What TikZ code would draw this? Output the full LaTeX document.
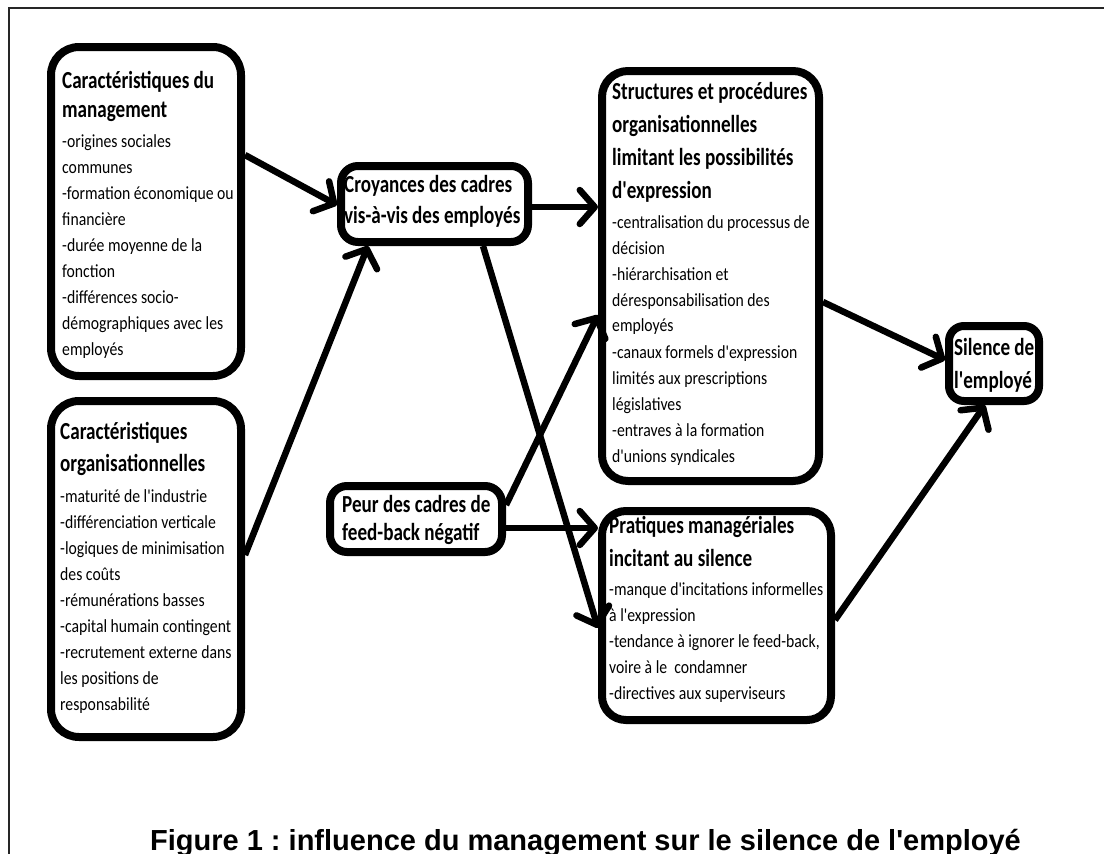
\documentclass[tikz,border=0pt]{standalone}
\usepackage{fontspec}
\usetikzlibrary{arrows.meta}
\newfontfamily\titlefam[FakeStretch=0.78,Ligatures=TeXOff]{Carlito}
\newfontfamily\bodyfam[FakeStretch=0.85,Ligatures=TeXOff]{Carlito}
\newfontfamily\capfam[Ligatures=TeXOff]{Liberation Sans}
\newcommand\bxtitle[1]{\titlefam\bfseries\fontsize{24.5}{#1}\selectfont}
\newcommand\bxbody{\bodyfam\mdseries\fontsize{18.5}{26}\selectfont}
\newcommand\bxtext[1]{\parbox[t]{300pt}{\raggedright\frenchspacing #1}}
\tikzset{
  bx/.style={draw=black, line width=8pt, rounded corners=#1, inner sep=0pt, fill=white},
  txt/.style={anchor=base west, inner sep=0pt},
  conn/.style={line width=6.5pt, -{Straight Barb[length=15pt,width=34pt,round]}},
}
\begin{document}
\begin{tikzpicture}[x=1pt,y=-1pt]
\useasboundingbox (0,0) rectangle (1104,854);
% partial frame
\draw[line width=1.5pt, black!85] (1104,8) -- (9,8) -- (9,854);

% boxes
\node[bx=28pt, minimum width=190pt, minimum height=329pt] (A) at (146,211.5) {};
\node[bx=28pt, minimum width=190pt, minimum height=336pt] (B) at (146,569) {};
\node[bx=17pt, minimum width=187pt, minimum height=76pt] (C) at (434.5,204) {};
\node[bx=17pt, minimum width=172pt, minimum height=66pt] (D) at (416,519) {};
\node[bx=26pt, minimum width=217pt, minimum height=410pt] (E) at (710.5,276) {};
\node[bx=24pt, minimum width=229pt, minimum height=209pt] (F) at (716.5,615.5) {};
\node[bx=15pt, minimum width=90pt, minimum height=75pt] (G) at (994,363.5) {};

% texts
\node[txt] (tA) at (62,88) {\bxtext{\bxtitle{29}Caractéristiques du\\management\par
\vspace{4.6pt}\bxbody -origines sociales\\communes\\-formation économique ou\\financière\\-durée moyenne de la\\fonction\\-différences socio-\\démographiques avec les\\employés\par}};
\node[txt] (tB) at (60,439) {\bxtext{\bxtitle{32}Caractéristiques\\organisationnelles\par
\vspace{5pt}\bxbody -maturité de l'industrie\\-différenciation verticale\\-logiques de minimisation\\des coûts\\-rémunérations basses\\-capital humain contingent\\-recrutement externe dans\\les positions de\\responsabilité\par}};
\node[txt] (tC) at (344,192) {\bxtext{\bxtitle{31}Croyances des cadres\\vis-à-vis des employés\par}};
\node[txt] (tD) at (342,512) {\bxtext{\bxtitle{28}Peur des cadres de\\feed-back négatif\par}};
\node[txt] (tE) at (612,99) {\bxtext{\bxtitle{33}Structures et procédures\\organisationnelles\\limitant les possibilités\\d'expression\par
\vspace{4pt}\bxbody -centralisation du processus de\\décision\\-hiérarchisation et\\déresponsabilisation des\\employés\\-canaux formels d'expression\\limités aux prescriptions\\législatives\\-entraves à la formation\\d'unions syndicales\par}};
\node[txt] (tF) at (609,533) {\bxtext{\bxtitle{33}Pratiques managériales\\incitant au silence\par
\vspace{3pt}\bxbody -manque d'incitations informelles\\à l'expression\\-tendance à ignorer le feed-back,\\voire à le\ \ condamner\\-directives aux superviseurs\par}};
\node[txt] (tG) at (954,355) {\bxtext{\bxtitle{33}Silence de\\l'employé\par}};

% connectors
\draw[conn] ([yshift=56.5pt]A.east) -- ([yshift=-1pt]C.west);
\draw[conn] ([yshift=14pt]B.east) -- ([xshift=-66.5pt]C.south);
\draw[conn] ([yshift=-3pt]C.east) -- ([yshift=69pt]E.west);
\draw[conn] ([xshift=48.5pt]C.south) -- ([yshift=-12.5pt]F.west);
\draw[conn] ([yshift=14pt]D.east) -- ([yshift=-39pt]E.west);
\draw[conn] ([yshift=-9pt]D.east) -- ([yshift=87.5pt]F.west);
\draw[conn] ([yshift=-26pt]E.east) -- ([yshift=3.5pt]G.west);
\draw[conn] ([yshift=-4.5pt]F.east) -- ([xshift=-9pt]G.south);

% caption
\node[anchor=base, inner sep=0pt] (cap) at (585.5,850) {\capfam\bfseries\frenchspacing\fontsize{29}{34}\selectfont Figure 1 : influence du management sur le silence de l'employé};
\end{tikzpicture}
\end{document}
